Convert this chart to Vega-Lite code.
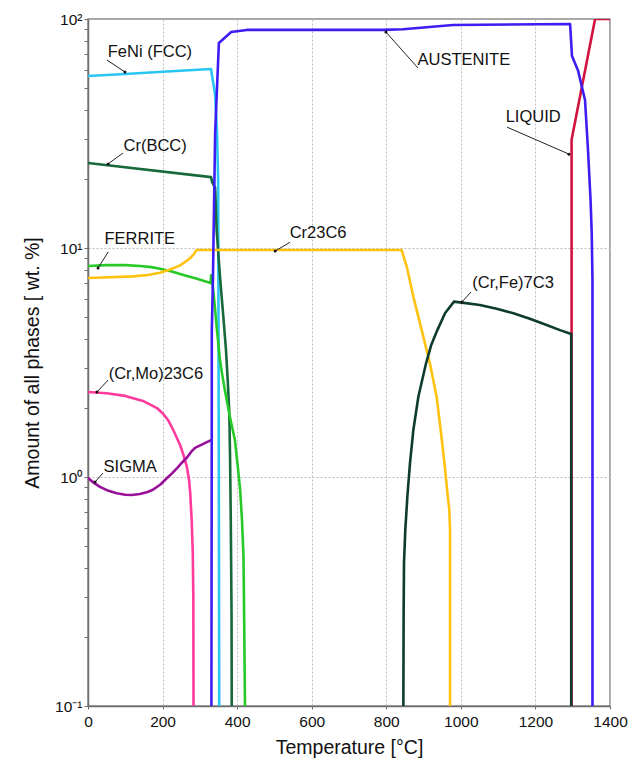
{
  "$schema": "https://vega.github.io/schema/vega-lite/v6.json",
  "autosize": "none",
  "width": 522,
  "height": 687,
  "padding": {"left": 88, "top": 19, "right": 20, "bottom": 67},
  "background": "white",
  "config": {
    "font": "Liberation Sans",
    "view": {"stroke": "#8c8c8c", "strokeWidth": 1.5},
    "axis": {
      "domainColor": "#6e6e6e",
      "domainWidth": 1.5,
      "tickColor": "#6e6e6e",
      "labelColor": "#111111",
      "titleColor": "#111111",
      "labelFont": "Liberation Sans",
      "titleFont": "Liberation Sans",
      "titleFontWeight": "normal",
      "gridColor": "#bdbdbd",
      "gridDash": [2, 2],
      "gridWidth": 1
    }
  },
  "datasets": {
    "phases": [
      {"phase": "LIQUID", "T": 1297, "v": 0.1},
      {"phase": "LIQUID", "T": 1297, "v": 29.7},
      {"phase": "LIQUID", "T": 1360, "v": 100},
      {"phase": "LIQUID", "T": 1400, "v": 100},

      {"phase": "FeNi (FCC)", "T": 0, "v": 56.4},
      {"phase": "FeNi (FCC)", "T": 100, "v": 57.5},
      {"phase": "FeNi (FCC)", "T": 200, "v": 58.8},
      {"phase": "FeNi (FCC)", "T": 330, "v": 60.5},
      {"phase": "FeNi (FCC)", "T": 341, "v": 46.6},
      {"phase": "FeNi (FCC)", "T": 346, "v": 31.8},
      {"phase": "FeNi (FCC)", "T": 349, "v": 20},
      {"phase": "FeNi (FCC)", "T": 350, "v": 5},
      {"phase": "FeNi (FCC)", "T": 352, "v": 0.1},

      {"phase": "Cr(BCC)", "T": 0, "v": 23.5},
      {"phase": "Cr(BCC)", "T": 330, "v": 20.4},
      {"phase": "Cr(BCC)", "T": 333, "v": 19.4},
      {"phase": "Cr(BCC)", "T": 341, "v": 18.3},
      {"phase": "Cr(BCC)", "T": 345, "v": 12.0},
      {"phase": "Cr(BCC)", "T": 354, "v": 7.5},
      {"phase": "Cr(BCC)", "T": 363, "v": 5.0},
      {"phase": "Cr(BCC)", "T": 370, "v": 3.6},
      {"phase": "Cr(BCC)", "T": 375, "v": 2.6},
      {"phase": "Cr(BCC)", "T": 379, "v": 1.9},
      {"phase": "Cr(BCC)", "T": 381, "v": 1.23},
      {"phase": "Cr(BCC)", "T": 383, "v": 0.63},
      {"phase": "Cr(BCC)", "T": 385, "v": 0.25},
      {"phase": "Cr(BCC)", "T": 385.5, "v": 0.1},

      {"phase": "FERRITE", "T": 0, "v": 8.34},
      {"phase": "FERRITE", "T": 50, "v": 8.42},
      {"phase": "FERRITE", "T": 100, "v": 8.42},
      {"phase": "FERRITE", "T": 140, "v": 8.35},
      {"phase": "FERRITE", "T": 170, "v": 8.25},
      {"phase": "FERRITE", "T": 193, "v": 8.12},
      {"phase": "FERRITE", "T": 225, "v": 7.9},
      {"phase": "FERRITE", "T": 256, "v": 7.62},
      {"phase": "FERRITE", "T": 290, "v": 7.35},
      {"phase": "FERRITE", "T": 329, "v": 7.03},
      {"phase": "FERRITE", "T": 330, "v": 7.6},
      {"phase": "FERRITE", "T": 334, "v": 7.0},
      {"phase": "FERRITE", "T": 340, "v": 5.6},
      {"phase": "FERRITE", "T": 345, "v": 4.53},
      {"phase": "FERRITE", "T": 354, "v": 3.24},
      {"phase": "FERRITE", "T": 360, "v": 2.8},
      {"phase": "FERRITE", "T": 367, "v": 2.4},
      {"phase": "FERRITE", "T": 380, "v": 1.85},
      {"phase": "FERRITE", "T": 394, "v": 1.45},
      {"phase": "FERRITE", "T": 402, "v": 1.1},
      {"phase": "FERRITE", "T": 408, "v": 0.88},
      {"phase": "FERRITE", "T": 413, "v": 0.65},
      {"phase": "FERRITE", "T": 417, "v": 0.45},
      {"phase": "FERRITE", "T": 419, "v": 0.23},
      {"phase": "FERRITE", "T": 421, "v": 0.1},

      {"phase": "Cr23C6", "T": 0, "v": 7.4},
      {"phase": "Cr23C6", "T": 60, "v": 7.45},
      {"phase": "Cr23C6", "T": 121, "v": 7.52},
      {"phase": "Cr23C6", "T": 160, "v": 7.62},
      {"phase": "Cr23C6", "T": 193, "v": 7.8},
      {"phase": "Cr23C6", "T": 220, "v": 8.05},
      {"phase": "Cr23C6", "T": 247, "v": 8.4},
      {"phase": "Cr23C6", "T": 265, "v": 8.8},
      {"phase": "Cr23C6", "T": 276, "v": 9.1},
      {"phase": "Cr23C6", "T": 284, "v": 9.4},
      {"phase": "Cr23C6", "T": 291, "v": 9.8},
      {"phase": "Cr23C6", "T": 841, "v": 9.8},
      {"phase": "Cr23C6", "T": 855, "v": 8.28},
      {"phase": "Cr23C6", "T": 872.6, "v": 6.12},
      {"phase": "Cr23C6", "T": 895, "v": 4.38},
      {"phase": "Cr23C6", "T": 917, "v": 3.13},
      {"phase": "Cr23C6", "T": 935, "v": 2.24},
      {"phase": "Cr23C6", "T": 946, "v": 1.6},
      {"phase": "Cr23C6", "T": 956, "v": 1.15},
      {"phase": "Cr23C6", "T": 965, "v": 0.82},
      {"phase": "Cr23C6", "T": 969, "v": 0.72},
      {"phase": "Cr23C6", "T": 971, "v": 0.59},
      {"phase": "Cr23C6", "T": 971, "v": 0.1},

      {"phase": "(Cr,Mo)23C6", "T": 0, "v": 2.35},
      {"phase": "(Cr,Mo)23C6", "T": 50, "v": 2.32},
      {"phase": "(Cr,Mo)23C6", "T": 100, "v": 2.26},
      {"phase": "(Cr,Mo)23C6", "T": 150, "v": 2.14},
      {"phase": "(Cr,Mo)23C6", "T": 185, "v": 2.0},
      {"phase": "(Cr,Mo)23C6", "T": 200, "v": 1.9},
      {"phase": "(Cr,Mo)23C6", "T": 215, "v": 1.77},
      {"phase": "(Cr,Mo)23C6", "T": 229, "v": 1.6},
      {"phase": "(Cr,Mo)23C6", "T": 247, "v": 1.38},
      {"phase": "(Cr,Mo)23C6", "T": 256, "v": 1.25},
      {"phase": "(Cr,Mo)23C6", "T": 265, "v": 1.11},
      {"phase": "(Cr,Mo)23C6", "T": 271, "v": 0.97},
      {"phase": "(Cr,Mo)23C6", "T": 274, "v": 0.86},
      {"phase": "(Cr,Mo)23C6", "T": 278, "v": 0.65},
      {"phase": "(Cr,Mo)23C6", "T": 281, "v": 0.47},
      {"phase": "(Cr,Mo)23C6", "T": 282.5, "v": 0.3},
      {"phase": "(Cr,Mo)23C6", "T": 283, "v": 0.1},

      {"phase": "SIGMA", "T": 0, "v": 0.99},
      {"phase": "SIGMA", "T": 15, "v": 0.945},
      {"phase": "SIGMA", "T": 32, "v": 0.905},
      {"phase": "SIGMA", "T": 55, "v": 0.87},
      {"phase": "SIGMA", "T": 77, "v": 0.849},
      {"phase": "SIGMA", "T": 100, "v": 0.837},
      {"phase": "SIGMA", "T": 117, "v": 0.834},
      {"phase": "SIGMA", "T": 139, "v": 0.843},
      {"phase": "SIGMA", "T": 160, "v": 0.86},
      {"phase": "SIGMA", "T": 174, "v": 0.88},
      {"phase": "SIGMA", "T": 195, "v": 0.93},
      {"phase": "SIGMA", "T": 212, "v": 0.99},
      {"phase": "SIGMA", "T": 226, "v": 1.04},
      {"phase": "SIGMA", "T": 239, "v": 1.094},
      {"phase": "SIGMA", "T": 253, "v": 1.16},
      {"phase": "SIGMA", "T": 266, "v": 1.22},
      {"phase": "SIGMA", "T": 277, "v": 1.29},
      {"phase": "SIGMA", "T": 287, "v": 1.34},
      {"phase": "SIGMA", "T": 330, "v": 1.45},

      {"phase": "AUSTENITE", "T": 331, "v": 0.1},
      {"phase": "AUSTENITE", "T": 332, "v": 2.2},
      {"phase": "AUSTENITE", "T": 332, "v": 4.3},
      {"phase": "AUSTENITE", "T": 335, "v": 7.2},
      {"phase": "AUSTENITE", "T": 341, "v": 31.8},
      {"phase": "AUSTENITE", "T": 351, "v": 78.6},
      {"phase": "AUSTENITE", "T": 384, "v": 87.8},
      {"phase": "AUSTENITE", "T": 426, "v": 89.6},
      {"phase": "AUSTENITE", "T": 791, "v": 89.6},
      {"phase": "AUSTENITE", "T": 845, "v": 90.2},
      {"phase": "AUSTENITE", "T": 979, "v": 94.2},
      {"phase": "AUSTENITE", "T": 1293, "v": 95.1},
      {"phase": "AUSTENITE", "T": 1298, "v": 68.9},
      {"phase": "AUSTENITE", "T": 1314, "v": 59.8},
      {"phase": "AUSTENITE", "T": 1333, "v": 44.3},
      {"phase": "AUSTENITE", "T": 1341, "v": 26.8},
      {"phase": "AUSTENITE", "T": 1348, "v": 16},
      {"phase": "AUSTENITE", "T": 1351, "v": 11.6},
      {"phase": "AUSTENITE", "T": 1353, "v": 7.25},
      {"phase": "AUSTENITE", "T": 1353, "v": 0.1},

      {"phase": "(Cr,Fe)7C3", "T": 845.8, "v": 0.1},
      {"phase": "(Cr,Fe)7C3", "T": 846.5, "v": 0.25},
      {"phase": "(Cr,Fe)7C3", "T": 847.5, "v": 0.42},
      {"phase": "(Cr,Fe)7C3", "T": 851, "v": 0.587},
      {"phase": "(Cr,Fe)7C3", "T": 856.5, "v": 0.82},
      {"phase": "(Cr,Fe)7C3", "T": 863.6, "v": 1.15},
      {"phase": "(Cr,Fe)7C3", "T": 872.5, "v": 1.6},
      {"phase": "(Cr,Fe)7C3", "T": 886, "v": 2.24},
      {"phase": "(Cr,Fe)7C3", "T": 906.5, "v": 3.13},
      {"phase": "(Cr,Fe)7C3", "T": 920, "v": 3.75},
      {"phase": "(Cr,Fe)7C3", "T": 937, "v": 4.38},
      {"phase": "(Cr,Fe)7C3", "T": 957.5, "v": 5.19},
      {"phase": "(Cr,Fe)7C3", "T": 981.6, "v": 5.83},
      {"phase": "(Cr,Fe)7C3", "T": 1051, "v": 5.64},
      {"phase": "(Cr,Fe)7C3", "T": 1096, "v": 5.43},
      {"phase": "(Cr,Fe)7C3", "T": 1141, "v": 5.19},
      {"phase": "(Cr,Fe)7C3", "T": 1185, "v": 4.91},
      {"phase": "(Cr,Fe)7C3", "T": 1230, "v": 4.61},
      {"phase": "(Cr,Fe)7C3", "T": 1266, "v": 4.38},
      {"phase": "(Cr,Fe)7C3", "T": 1296, "v": 4.21},
      {"phase": "(Cr,Fe)7C3", "T": 1296, "v": 0.1}
    ],
    "labels": [
      {"label": "FeNi (FCC)", "T": 166, "v": 71.8, "T1": 51, "v1": 66.2, "T2": 99, "v2": 58.7},
      {"label": "Cr(BCC)", "T": 180, "v": 27.9, "T1": 94, "v1": 26.0, "T2": 54, "v2": 23.3},
      {"label": "FERRITE", "T": 139, "v": 10.95, "T1": 54, "v1": 9.6, "T2": 27, "v2": 8.18},
      {"label": "Cr23C6", "T": 617, "v": 11.6, "T1": 542, "v1": 10.6, "T2": 502, "v2": 9.7},
      {"label": "AUSTENITE", "T": 1008, "v": 66.2, "T1": 885, "v1": 61.1, "T2": 799, "v2": 87.7},
      {"label": "LIQUID", "T": 1194, "v": 37.3, "T1": 1124, "v1": 33.7, "T2": 1290, "v2": 25.7},
      {"label": "(Cr,Fe)7C3", "T": 1140, "v": 7.03, "T1": 1027, "v1": 6.42, "T2": 1003, "v2": 5.81},
      {"label": "(Cr,Mo)23C6", "T": 182, "v": 2.82, "T1": 54, "v1": 2.65, "T2": 24, "v2": 2.35},
      {"label": "SIGMA", "T": 113, "v": 1.106, "T1": 40, "v1": 1.04, "T2": 19, "v2": 0.951}
    ]
  },
  "layer": [
    {
      "data": {"name": "phases"},
      "mark": {"type": "line", "strokeWidth": 2.6, "clip": true, "strokeJoin": "round"},
      "encoding": {
        "x": {
          "field": "T",
          "type": "quantitative",
          "scale": {"domain": [0, 1400], "nice": false, "zero": false},
          "axis": {
            "title": "Temperature [°C]",
            "values": [0, 200, 400, 600, 800, 1000, 1200, 1400],
            "format": "d",
            "grid": true,
            "tickSize": 3,
            "labelFontSize": 15.5,
            "labelPadding": 5,
            "labelFlush": false,
            "titleFontSize": 19.5,
            "titlePadding": 9
          }
        },
        "y": {
          "field": "v",
          "type": "quantitative",
          "scale": {"type": "log", "domain": [0.1, 100], "nice": false},
          "axis": {
            "title": "Amount of all phases [ wt. %]",
            "values": [0.1, 0.2, 0.3, 0.4, 0.5, 0.6, 0.7, 0.8, 0.9, 1, 2, 3, 4, 5, 6, 7, 8, 9, 10, 20, 30, 40, 50, 60, 70, 80, 90, 100],
            "labelExpr": "datum.value == 0.1 ? '10⁻¹' : datum.value == 1 ? '10⁰' : datum.value == 10 ? '10¹' : datum.value == 100 ? '10²' : ''",
            "grid": true,
            "gridOpacity": {"condition": {"test": "datum.value == 1 || datum.value == 10", "value": 1}, "value": 0},
            "tickSize": 4,
            "labelFontSize": 15.5,
            "labelPadding": 2,
            "labelFlush": false,
            "labelOverlap": false,
            "titleFontSize": 19.5,
            "titlePadding": 12
          }
        },
        "color": {
          "field": "phase",
          "type": "nominal",
          "scale": {
            "domain": ["LIQUID", "FeNi (FCC)", "Cr(BCC)", "FERRITE", "Cr23C6", "(Cr,Mo)23C6", "SIGMA", "AUSTENITE", "(Cr,Fe)7C3"],
            "range": ["#d3123f", "#2ac6f3", "#17683a", "#26c926", "#ffc20e", "#ff3a9d", "#990f99", "#3c1ef2", "#0e3b30"]
          },
          "legend": null
        },
        "order": {"value": null}
      }
    },
    {
      "data": {"name": "labels"},
      "mark": {"type": "rule", "color": "#222222", "strokeWidth": 1},
      "encoding": {
        "x": {"field": "T1", "type": "quantitative"},
        "y": {"field": "v1", "type": "quantitative"},
        "x2": {"field": "T2"},
        "y2": {"field": "v2"}
      }
    },
    {
      "data": {"name": "labels"},
      "mark": {"type": "point", "filled": true, "color": "#111111", "size": 9, "opacity": 1},
      "encoding": {
        "x": {"field": "T2", "type": "quantitative"},
        "y": {"field": "v2", "type": "quantitative"}
      }
    },
    {
      "data": {"name": "labels"},
      "mark": {"type": "text", "fontSize": 16.5, "font": "Liberation Sans", "color": "#111111", "align": "center", "baseline": "middle"},
      "encoding": {
        "x": {"field": "T", "type": "quantitative"},
        "y": {"field": "v", "type": "quantitative"},
        "text": {"field": "label"}
      }
    }
  ]
}
